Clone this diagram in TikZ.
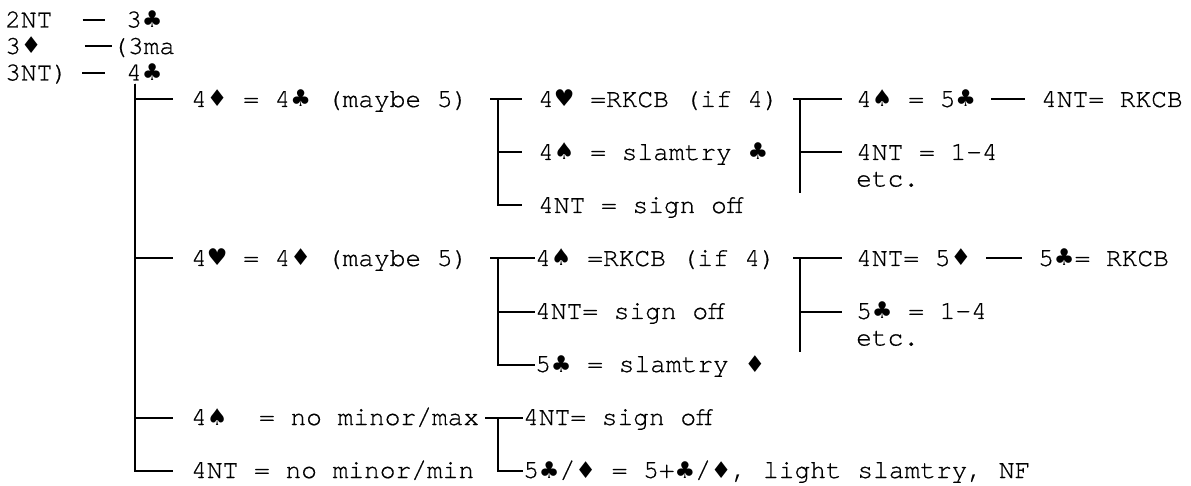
\documentclass[tikz,border=0pt]{standalone}
\usepackage{fontspec}
\setmonofont[FakeBold=0.6]{TeX Gyre Cursor}
\newfontfamily\suitfont[Scale=0.88]{DejaVu Sans}
\newcommand{\suitC}{{\suitfont ♣}}
\newcommand{\suitD}{{\suitfont ♦}}
\newcommand{\suitH}{{\suitfont ♥}}
\newcommand{\suitS}{{\suitfont ♠}}
\frenchspacing
\begin{document}
\begin{tikzpicture}[x=1pt,y=-1pt,
  bid/.style={font=\fontsize{26.2}{31}\ttfamily,anchor=west,inner sep=0pt,text height=15pt,text depth=0pt},
  tree/.style={line width=2pt}]
\useasboundingbox (0,0) rectangle (1191,486);
% opening
\node[bid] (nt2) at (5,20) {2NT};
\node[bid] (c3) at (126,20) {3\suitC};
\node[bid] (d3) at (5,46.5) {3\suitD};
\node[bid] (ma3) at (112,46.5) {(3ma};
\node[bid] (nt3) at (5,73) {3NT)};
\node[bid] (c4) at (126,73) {4\suitC};
\draw[tree,shorten <=30pt,shorten >=21pt] (nt2) -- (c3);
\draw[tree,shorten <=43pt] (d3) -- (ma3);
\draw[tree,shorten <=14pt,shorten >=21pt] (nt3) -- (c4);
% replies to 4C
\node[bid] (d4d) at (191,99.5) {4\suitD{} = 4\suitC{} (maybe 5)};
\node[bid] (h4d) at (191,258.5) {4\suitH{} = 4\suitD{} (maybe 5)};
\node[bid] (s4nm) at (191,417.5) {4\suitS{}\ \ = no minor/max};
\node[bid] (nt4nm) at (191,470.5) {4NT = no minor/min};
\coordinate (t1) at ([xshift=9pt,yshift=-3pt]c4.south west);
\foreach \n in {d4d,h4d,s4nm,nt4nm}
  \draw[tree,shorten >=18pt] (t1) |- (\n);
% after 4D
\node[bid] (h4rk) at (538,99.5) {4\suitH{} =RKCB (if 4)};
\node[bid] (s4sl) at (538,152.5) {4\suitS{} = slamtry \suitC};
\node[bid] (nt4so) at (538,205.5) {4NT = sign off};
\coordinate (ta) at (498,99.5);
\draw[tree,shorten >=16pt] ([xshift=-8pt]ta) -- (h4rk);
\foreach \n in {s4sl,nt4so}
  \draw[tree,shorten >=16pt] (ta) |- (\n);
\node[bid] (s4c5) at (856,99.5) {4\suitS{} = 5\suitC};
\node[bid] (nt4rk) at (1041,99.5) {4NT= RKCB};
\node[bid] (nt4a) at (856,152.5) {4NT = 1-4};
\node[bid] (etc1) at (856,179) {etc.};
\coordinate (ta2) at (800,99.5);
\draw[tree,shorten >=14pt] ([xshift=-7pt]ta2) -- (s4c5);
\draw[tree,shorten >=14pt] (ta2) |- (nt4a);
\draw[tree] (ta2) -- (ta2 |- etc1.south) -- ++(0,6);
\draw[tree,shorten <=15pt,shorten >=16pt] (s4c5) -- (nt4rk);
% after 4H
\node[bid] (s4rk) at (535,258.5) {4\suitS{} =RKCB (if 4)};
\node[bid] (nt4so2) at (535,311.5) {4NT= sign off};
\node[bid] (c5sl) at (535,364.5) {5\suitC{} = slamtry \suitD};
\coordinate (tb) at (498,258.5);
\draw[tree] ([xshift=-8pt]tb) -- (s4rk);
\foreach \n in {nt4so2,c5sl}
  \draw[tree] (tb) |- (\n);
\node[bid] (nt4d5) at (856,258.5) {4NT= 5\suitD};
\node[bid] (c5rk) at (1038,258.5) {5\suitC= RKCB};
\node[bid] (c5a) at (856,311.5) {5\suitC{} = 1-4};
\node[bid] (etc2) at (856,338) {etc.};
\coordinate (tb2) at (800,258.5);
\draw[tree,shorten >=14pt] ([xshift=-7pt]tb2) -- (nt4d5);
\draw[tree,shorten >=14pt] (tb2) |- (c5a);
\draw[tree] (tb2) -- (tb2 |- etc2.south) -- ++(0,6);
\draw[tree,shorten <=15pt,shorten >=16pt] (nt4d5) -- (c5rk);
% after 4S
\node[bid] (nt4so3) at (523,417.5) {4NT= sign off};
\node[bid] (c5d5) at (523,470.5) {5\suitC/\suitD{} = 5+\suitC/\suitD, light slamtry, NF};
\coordinate (tc) at (498,417.5);
\draw[tree] ([xshift=-13pt]tc) -- (nt4so3);
\draw[tree] (tc) |- (c5d5);
\end{tikzpicture}
\end{document}
